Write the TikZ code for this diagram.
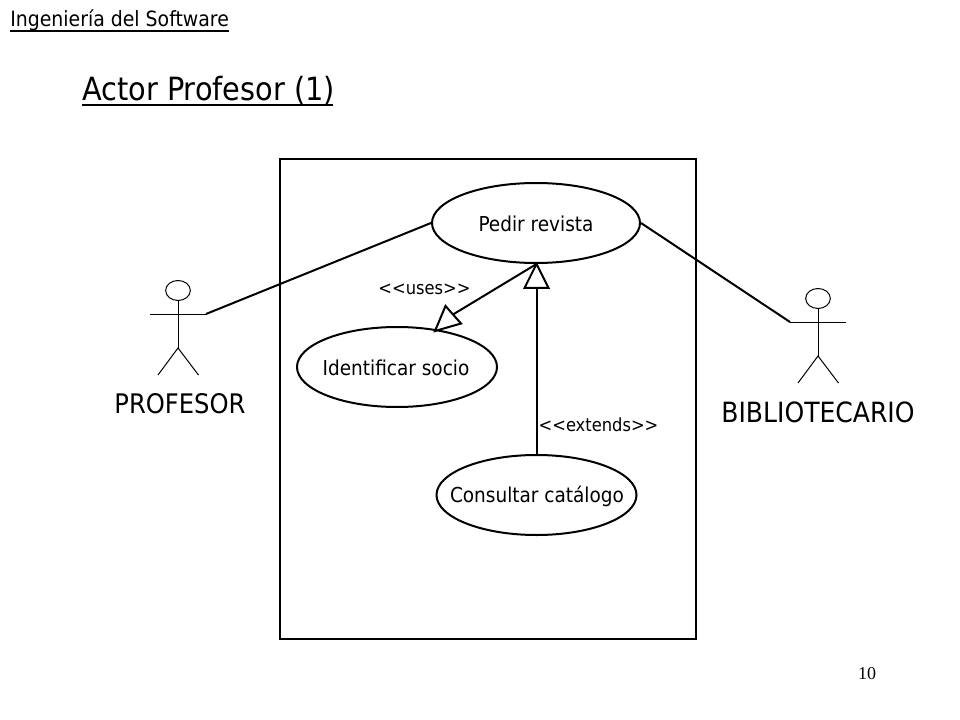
\documentclass[tikz,border=0pt]{standalone}
\usepackage{fontspec}
\setmainfont{DejaVu Sans Condensed}
\newfontfamily\numfont{Liberation Serif}
\usetikzlibrary{shapes.geometric}
\begin{document}
\begin{tikzpicture}[x=0.75pt,y=-0.75pt,
  usecase/.style={draw,line width=1.5pt,ellipse,inner sep=0pt,minimum width=0pt},
  actorline/.style={line width=0.75pt},
  assoc/.style={line width=1.5pt},
  genhead/.style={draw,fill=white,line width=1.5pt,line join=miter},
  lbl/.style={inner sep=0pt,font=\fontsize{15.4pt}{18pt}\selectfont},
  stereo/.style={inner sep=0pt,font=\fontsize{13.6pt}{16pt}\selectfont},
  biglbl/.style={inner sep=0pt,font=\fontsize{20.6pt}{25pt}\selectfont}]
\useasboundingbox (0,0) rectangle (960,720);
\fill[white] (0,0) rectangle (960,720);
% titles
\node[anchor=base west,inner sep=0pt,font=\fontsize{15.75pt}{18pt}\selectfont] (hdr) at (10,27) {Ingeniería del Software};
\draw[line width=0.8pt] (10,31) -- (229,31);
\node[anchor=base west,inner sep=0pt,font=\fontsize{24pt}{29pt}\selectfont] (ttl) at (82,101) {Actor Profesor (1)};
\draw[line width=1.5pt] (82,105) -- (333,105);
\node[anchor=base,inner sep=0pt,font=\numfont\fontsize{13.5pt}{16pt}\selectfont] (num) at (867,679) {10};
% system boundary
\draw[line width=1.5pt] (280,159) rectangle (696,639);
% use cases
\node[usecase,minimum width=156pt,minimum height=60pt] (pedir) at (536,223) {};
\node[usecase,minimum width=150pt,minimum height=60pt] (ident) at (397,367) {};
\node[usecase,minimum width=150pt,minimum height=60pt] (cons) at (536.5,495) {};
\node[lbl] (pedirt) at (536,224) {Pedir revista};
\node[lbl] (identt) at (396,368) {Identificar socio};
\node[lbl] (const) at (537,496) {Consultar catálogo};
\node[stereo] (uses) at (424.5,289) {{<}{<}uses{>}{>}};
\node[stereo] (ext) at (598.5,425) {{<}{<}extends{>}{>}};
% actors
\node[draw,actorline,ellipse,inner sep=0pt,minimum width=18.5pt,minimum height=15pt] (h1) at (178,290.5) {};
\coordinate (hip1) at (178,348);
\coordinate (la1) at (150,314);
\coordinate (ra1) at (206,314);
\coordinate (lf1) at (158,375);
\coordinate (rf1) at (198.5,375);
\draw[actorline] (h1.south) -- (hip1);
\draw[actorline] (la1) -- (ra1);
\draw[actorline] (lf1) -- (hip1) -- (rf1);
\node[draw,actorline,ellipse,inner sep=0pt,minimum width=18.5pt,minimum height=15pt] (h2) at (818,298.5) {};
\coordinate (hip2) at (818,356);
\coordinate (la2) at (790,322);
\coordinate (ra2) at (846,322);
\coordinate (lf2) at (798,383);
\coordinate (rf2) at (838.5,383);
\draw[actorline] (h2.south) -- (hip2);
\draw[actorline] (la2) -- (ra2);
\draw[actorline] (lf2) -- (hip2) -- (rf2);
\node[inner sep=0pt,font=\fontsize{20.2pt}{25pt}\selectfont] (prof) at (180,404) {PROFESOR};
\node[inner sep=0pt,font=\fontsize{20.9pt}{25pt}\selectfont] (bib) at (818,412) {BIBLIOTECARIO};
% connectors
\draw[assoc] (ra1) -- (pedir.west);
\draw[assoc] (la2) -- (pedir.east);
\coordinate (apex) at (536.5,264);
\coordinate (utip) at (435,331);
\coordinate (ub1) at (445.5,306);
\coordinate (ub2) at (461,323.5);
\coordinate (ubm) at (453,314.5);
\coordinate (eb1) at (524.5,288);
\coordinate (eb2) at (548.5,288);
\coordinate (ebm) at (536.5,288);
\draw[assoc] (apex) -- (ubm);
\draw[genhead] (utip) -- (ub1) -- (ub2) -- cycle;
\draw[assoc] (cons.north) -- (ebm);
\draw[genhead] (apex) -- (eb1) -- (eb2) -- cycle;
\end{tikzpicture}
\end{document}
